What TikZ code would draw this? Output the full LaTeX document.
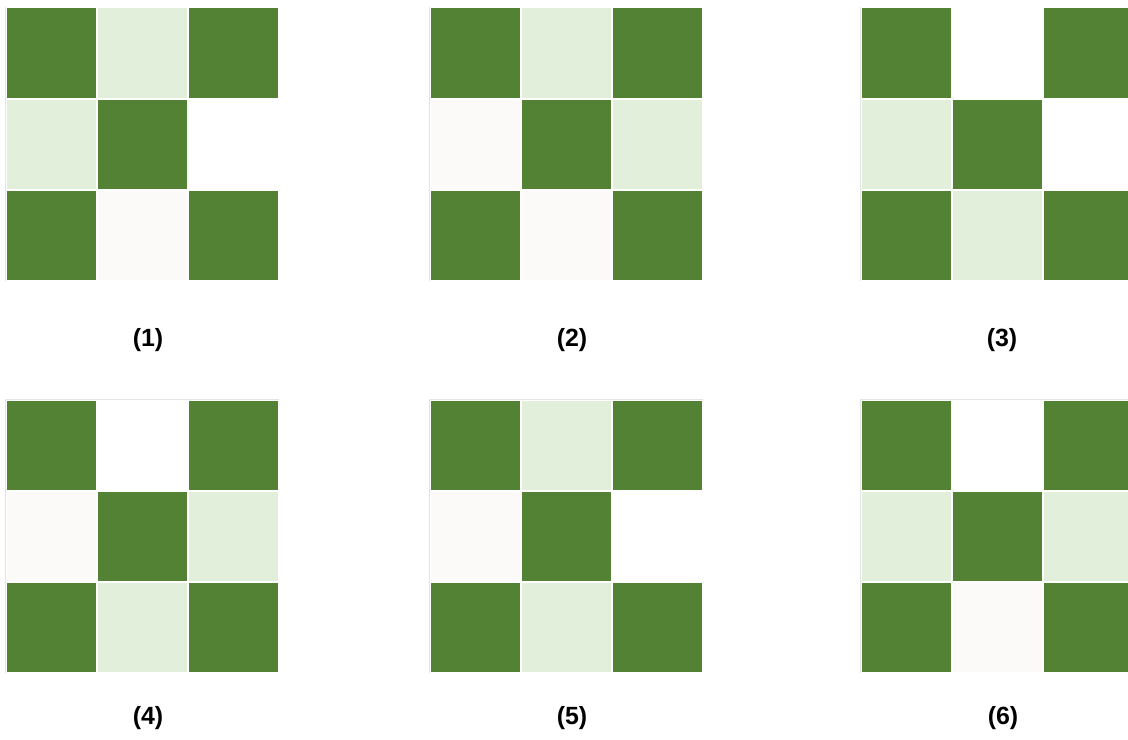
\documentclass[tikz,border=0pt]{standalone}
\usepackage{fontspec}
\setmainfont{Liberation Sans}
\definecolor{dk}{HTML}{548235}
\definecolor{lt}{HTML}{E2EFDA}
\definecolor{wh}{HTML}{FFFFFF}
\definecolor{of}{HTML}{FBFAF8}
\definecolor{rim}{HTML}{E4E4E4}
\begin{document}
\begin{tikzpicture}[x=1bp,y=-1bp,
  cellbox/.style={draw=white,line width=1bp},
  gridrim/.style={draw=rim,line width=0.8bp},
  lab/.style={font=\bfseries\fontsize{25}{30}\selectfont,anchor=center}]
\useasboundingbox[fill=white] (0,0) rectangle (1128,740);
\clip (0,0) rectangle (1128,740);
\newcommand{\mygrid}[3]{%
  \draw[gridrim] (#1-0.5,#2-0.5) rectangle (#1+272.5,#2+272.5);
  \foreach \c [count=\i from 0] in {#3} {
    \pgfmathtruncatemacro{\r}{int(\i/3)}
    \pgfmathtruncatemacro{\k}{mod(\i,3)}
    \fill[\c,cellbox] (#1+\k*91,#2+\r*91) rectangle ++(90.5,90.5);
  }}
\mygrid{6}{8}{dk,lt,dk,lt,dk,wh,dk,of,dk}
\mygrid{430}{8}{dk,lt,dk,of,dk,lt,dk,of,dk}
\mygrid{861}{8}{dk,wh,dk,lt,dk,wh,dk,lt,dk}
\mygrid{6}{400}{dk,wh,dk,of,dk,lt,dk,lt,dk}
\mygrid{430}{400}{dk,lt,dk,of,dk,wh,dk,lt,dk}
\mygrid{861}{400}{dk,wh,dk,lt,dk,lt,dk,of,dk}
\node[lab] (l1) at (148,340) {(1)};
\node[lab] (l2) at (572,340) {(2)};
\node[lab] (l3) at (1002,340) {(3)};
\node[lab] (l4) at (148,718) {(4)};
\node[lab] (l5) at (572,718) {(5)};
\node[lab] (l6) at (1003,718) {(6)};
\end{tikzpicture}
\end{document}
